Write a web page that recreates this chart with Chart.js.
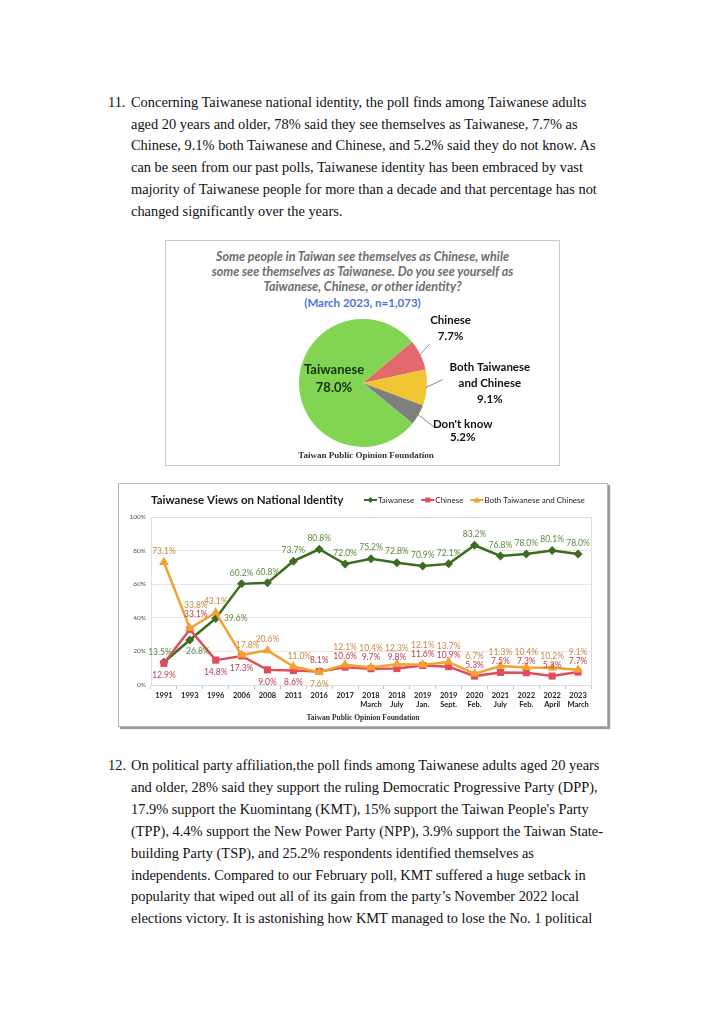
<!DOCTYPE html>
<html><head><meta charset="utf-8">
<script src="https://cdn.jsdelivr.net/npm/chart.js@4.4.1/dist/chart.umd.min.js"></script>
<style>
html,body{margin:0;padding:0;background:#fff;}
body{width:724px;height:1024px;position:relative;overflow:hidden;}
.ln{position:absolute;left:131px;font-family:"Liberation Serif","Times New Roman",serif;font-size:14.4px;color:#111;white-space:nowrap;line-height:22px;height:22px;}
.num{left:108px;}
.box1{position:absolute;left:165px;top:240px;width:393px;height:224px;border:1px solid #c9c9c9;}
.box2{position:absolute;left:118px;top:483px;width:488px;height:242px;border:1px solid #b5b5b5;box-shadow:2px 2px 1px #9a9a9a;}
.ptitle{position:absolute;left:165px;width:395px;text-align:center;font-family:Lato,"Open Sans",sans-serif;font-style:italic;font-weight:bold;font-size:12.5px;color:#6e6e6e;white-space:nowrap;line-height:15px;}
.psub{position:absolute;left:165px;width:395px;text-align:center;font-family:Lato,"Open Sans",sans-serif;font-weight:bold;font-size:11.5px;color:#4f72e0;line-height:14px;}
.src{position:absolute;text-align:center;font-family:"Liberation Serif","Times New Roman",serif;font-weight:bold;color:#333;white-space:nowrap;}
canvas{position:absolute;}
</style></head>
<body>
<div class="ln num" style="top:91px">11.</div>
<div class="ln" style="top:91px">Concerning Taiwanese national identity, the poll finds among Taiwanese adults</div>
<div class="ln" style="top:113px">aged 20 years and older, 78% said they see themselves as Taiwanese, 7.7% as</div>
<div class="ln" style="top:134px">Chinese, 9.1% both Taiwanese and Chinese, and 5.2% said they do not know. As</div>
<div class="ln" style="top:156px">can be seen from our past polls, Taiwanese identity has been embraced by vast</div>
<div class="ln" style="top:178px">majority of Taiwanese people for more than a decade and that percentage has not</div>
<div class="ln" style="top:200px">changed significantly over the years.</div>

<div class="box1"></div>
<div class="ptitle" style="top:249px">Some people in Taiwan see themselves as Chinese, while</div>
<div class="ptitle" style="top:264px">some see themselves as Taiwanese. Do you see yourself as</div>
<div class="ptitle" style="top:279px">Taiwanese, Chinese, or other identity?</div>
<div class="psub" style="top:296px">(March 2023, n=1,073)</div>
<canvas id="pie" width="394" height="225" style="left:165px;top:240px;width:394px;height:225px"></canvas>
<div class="src" style="left:266px;width:200px;top:449px;font-size:9px;line-height:12px">Taiwan Public Opinion Foundation</div>

<div class="box2"></div>
<canvas id="line" width="490" height="244" style="left:118px;top:483px;width:490px;height:244px"></canvas>
<div class="src" style="left:263px;width:200px;top:713px;font-size:7.5px;line-height:10px">Taiwan Public Opinion Foundation</div>

<div class="ln num" style="top:754px">12.</div>
<div class="ln" style="top:754px">On political party affiliation,the poll finds among Taiwanese adults aged 20 years</div>
<div class="ln" style="top:776px">and older, 28% said they support the ruling Democratic Progressive Party (DPP),</div>
<div class="ln" style="top:798px">17.9% support the Kuomintang (KMT), 15% support the Taiwan People's Party</div>
<div class="ln" style="top:820px">(TPP), 4.4% support the New Power Party (NPP), 3.9% support the Taiwan State-</div>
<div class="ln" style="top:842px">building Party (TSP), and 25.2% respondents identified themselves as</div>
<div class="ln" style="top:864px">independents. Compared to our February poll, KMT suffered a huge setback in</div>
<div class="ln" style="top:885px">popularity that wiped out all of its gain from the party’s November 2022 local</div>
<div class="ln" style="top:907px">elections victory. It is astonishing how KMT managed to lose the No. 1 political</div>

<script>
// ---------- data ----------
const pieLabels = ['Chinese', 'Both Taiwanese and Chinese', "Don't know", 'Taiwanese'];
const pieValues = [7.7, 9.1, 5.2, 78.0];

const categories = [['1991'], ['1993'], ['1996'], ['2006'], ['2008'], ['2011'], ['2016'], ['2017'],
  ['2018', 'March'], ['2018', 'July'], ['2019', 'Jan.'], ['2019', 'Sept.'], ['2020', 'Feb.'],
  ['2021', 'July'], ['2022', 'Feb.'], ['2022', 'April'], ['2023', 'March']];
const taiwanese = [13.5, 26.8, 39.6, 60.2, 60.8, 73.7, 80.8, 72.0, 75.2, 72.8, 70.9, 72.1, 83.2, 76.8, 78.0, 80.1, 78.0];
const chinese = [12.9, 33.1, 14.8, 17.3, 9.0, 8.6, 8.1, 10.6, 9.7, 9.8, 11.6, 10.9, 5.3, 7.5, 7.3, 5.3, 7.7];
const both = [73.1, 33.8, 43.1, 17.8, 20.6, 11.0, 7.6, 12.1, 10.4, 12.3, 12.1, 13.7, 6.7, 11.3, 10.4, 10.2, 9.1];
const yTicks = [0, 20, 40, 60, 80, 100];

// label placement keywords (styling only)
const twPlace = ['tl', 'br', 'r', 't', 't', 't', 't', 't', 't', 't', 't', 't', 't', 't', 't', 't', 't'];
const cnPlace = ['b', 'tr', 'b', 'b', 'b', 'b', 't', 't', 't', 't', 't', 't', 't', 't', 't', 't', 't'];
const btPlace = ['t', 'stack', 't', 'tr', 't', 'tr', 'b', 'stack', 'stack', 'stack', 'stack', 'stack', 'stack', 'stack', 'stack', 'stack', 'stack'];

const FONT = 'Lato, "Open Sans", sans-serif';

// ---------- pie ----------
const pieColors = ['#e26a6c', '#f2c535', '#7f7f7f', '#82d552'];
const pieLabelCfg = [
  { lines: ['Chinese', '7.7%'], lead: [10, -11], tx: 21, ty: [-24, -8] },
  { lines: ['Both Taiwanese', 'and Chinese', '9.1%'], lead: [17, -8], tx: 47, ty: [-12, 4, 20] },
  { lines: ["Don't know", '5.2%'], lead: [17, 13], tx: 28, ty: [-3, 10], hook: 3 },
  { inside: true, lines: ['Taiwanese', '78.0%'], tx: -29, ty: [-13, 5] }
];
const pieLabelPlugin = {
  id: 'pieLabels',
  afterDatasetsDraw(chart) {
    const ctx = chart.ctx;
    const meta = chart.getDatasetMeta(0);
    meta.data.forEach((arc, i) => {
      const cfg = pieLabelCfg[i];
      const p = arc.getProps(['x', 'y', 'startAngle', 'endAngle', 'outerRadius'], true);
      const mid = (p.startAngle + p.endAngle) / 2;
      ctx.save();
      ctx.textAlign = 'center';
      ctx.textBaseline = 'middle';
      if (cfg.inside) {
        ctx.fillStyle = '#17300b';
        ctx.font = 'bold 13px ' + FONT;
        cfg.lines.forEach((t, k) => ctx.fillText(t, p.x + cfg.tx, p.y + cfg.ty[k]));
      } else {
        const sx = p.x + Math.cos(mid) * (p.outerRadius - 1);
        const sy = p.y + Math.sin(mid) * (p.outerRadius - 1);
        const ex = sx + cfg.lead[0], ey = sy + cfg.lead[1];
        ctx.strokeStyle = '#8c8c8c';
        ctx.lineWidth = 1;
        ctx.beginPath();
        ctx.moveTo(sx, sy);
        ctx.lineTo(ex, ey);
        if (cfg.hook) ctx.lineTo(ex + cfg.hook, ey);
        ctx.stroke();
        ctx.fillStyle = '#111';
        ctx.font = 'bold 11.5px ' + FONT;
        cfg.lines.forEach((t, k) => ctx.fillText(t, ex + cfg.tx, ey + cfg.ty[k]));
      }
      ctx.restore();
    });
  }
};

new Chart(document.getElementById('pie'), {
  type: 'pie',
  data: { labels: pieLabels, datasets: [{ data: pieValues, backgroundColor: pieColors, borderWidth: 0 }] },
  options: {
    responsive: false, animation: false, rotation: 50,
    layout: { padding: { left: 134, right: 132, top: 79, bottom: 18 } },
    plugins: { legend: { display: false }, tooltip: { enabled: false } },
    events: []
  },
  plugins: [pieLabelPlugin]
});

// ---------- line ----------
const cGreen = '#3d6b1f', cRed = '#e24c5b', cOrange = '#f2a231';
const lblGreen = '#5b8b3b', lblRed = '#c23a4c', lblOrange = '#c98a45';

const OFF = { t: [0, -11], b: [0, 12], r: [20, 0], tl: [-4, -10], br: [8, 11], tr: [6, -10] };

const lineLabelPlugin = {
  id: 'lineLabels',
  afterDatasetsDraw(chart) {
    const ctx = chart.ctx;
    ctx.save();
    ctx.font = '8.5px ' + FONT;
    ctx.textAlign = 'center';
    ctx.textBaseline = 'middle';
    const mTw = chart.getDatasetMeta(0).data;
    const mCn = chart.getDatasetMeta(1).data;
    const mBt = chart.getDatasetMeta(2).data;
    const redY = [];
    mTw.forEach((pt, i) => {
      const o = OFF[twPlace[i]];
      ctx.fillStyle = lblGreen;
      ctx.fillText(taiwanese[i].toFixed(1) + '%', pt.x + o[0], pt.y + o[1]);
    });
    mCn.forEach((pt, i) => {
      let o = OFF[cnPlace[i]];
      if (cnPlace[i] === 'tr') o = [6, -15];
      ctx.fillStyle = lblRed;
      const y = pt.y + o[1];
      redY[i] = y;
      ctx.fillText(chinese[i].toFixed(1) + '%', pt.x + o[0], y);
    });
    mBt.forEach((pt, i) => {
      const pl = btPlace[i];
      let x, y;
      if (pl === 'stack') {
        x = pt.x + (i === 1 ? 6 : 0);
        y = Math.min(pt.y - 12, redY[i] - 9);
      } else {
        const o = OFF[pl];
        x = pt.x + o[0]; y = pt.y + o[1];
      }
      ctx.fillStyle = lblOrange;
      ctx.fillText(both[i].toFixed(1) + '%', x, y);
    });
    ctx.restore();
  }
};

const frameLegendPlugin = {
  id: 'frameLegend',
  beforeDatasetsDraw(chart) {
    const a = chart.chartArea, ctx = chart.ctx;
    ctx.save();
    ctx.strokeStyle = '#dedede';
    ctx.lineWidth = 1;
    ctx.strokeRect(Math.round(a.left) + 0.5, Math.round(a.top) + 0.5, Math.round(a.right - a.left), Math.round(a.bottom - a.top));
    ctx.restore();
  },
  afterDraw(chart) {
    const ctx = chart.ctx;
    ctx.save();
    ctx.textBaseline = 'middle';
    ctx.fillStyle = '#1a1a1a';
    ctx.font = 'bold 11.5px ' + FONT;
    ctx.fillText('Taiwanese Views on National Identity', 33, 17);
    ctx.font = '8px ' + FONT;
    let x = 246;
    const y = 17;
    chart.data.datasets.forEach(ds => {
      ctx.strokeStyle = ds.borderColor;
      ctx.lineWidth = 2;
      ctx.beginPath(); ctx.moveTo(x, y); ctx.lineTo(x + 13, y); ctx.stroke();
      ctx.fillStyle = ds.borderColor;
      const cx = x + 6.5;
      ctx.beginPath();
      if (ds.pointStyle === 'rectRot') { ctx.moveTo(cx, y - 3); ctx.lineTo(cx + 3, y); ctx.lineTo(cx, y + 3); ctx.lineTo(cx - 3, y); }
      else if (ds.pointStyle === 'rect') { ctx.rect(cx - 2.5, y - 2.5, 5, 5); }
      else { ctx.moveTo(cx, y - 3.2); ctx.lineTo(cx + 3.2, y + 2.5); ctx.lineTo(cx - 3.2, y + 2.5); }
      ctx.fill();
      ctx.fillStyle = '#222';
      ctx.fillText(ds.label, x + 14, y);
      x += 14 + ctx.measureText(ds.label).width + 7;
    });
    ctx.restore();
  }
};

new Chart(document.getElementById('line'), {
  type: 'line',
  data: {
    labels: categories,
    datasets: [
      { label: 'Taiwanese', data: taiwanese, borderColor: cGreen, backgroundColor: cGreen, borderWidth: 2.5,
        pointStyle: 'rectRot', pointRadius: 4.5, pointBorderWidth: 0, order: 2 },
      { label: 'Chinese', data: chinese, borderColor: cRed, backgroundColor: cRed, borderWidth: 2.5,
        pointStyle: 'rect', pointRadius: 5, pointBorderWidth: 0, order: 1 },
      { label: 'Both Taiwanese and Chinese', data: both, borderColor: cOrange, backgroundColor: cOrange, borderWidth: 2.5,
        pointStyle: 'triangle', pointRadius: 5.5, pointBorderWidth: 0, order: 0 }
    ]
  },
  options: {
    responsive: false, animation: false, events: [],
    layout: { padding: { left: 0, right: 17, top: 34, bottom: 0 } },
    plugins: { legend: { display: false }, tooltip: { enabled: false }, title: { display: false } },
    scales: {
      x: {
        offset: true,
        grid: { drawOnChartArea: false, drawTicks: true, tickLength: 4, color: '#c4c4c4', offset: true },
        border: { display: true, color: '#c4c4c4' },
        ticks: { color: '#222', font: { family: FONT, size: 7.5, weight: 'bold', lineHeight: 1.25 }, padding: 2, maxRotation: 0, autoSkip: false },
        afterFit(s) { s.height = 42; }
      },
      y: {
        min: 0, max: 100,
        afterBuildTicks(s) { s.ticks = yTicks.map(v => ({ value: v })); },
        grid: { color: '#e6e6e6', drawTicks: false },
        border: { display: false },
        ticks: { color: '#555', font: { family: FONT, size: 6.5 }, padding: 5, callback: v => v + '%' },
        afterFit(s) { s.width = 33; }
      }
    }
  },
  plugins: [lineLabelPlugin, frameLegendPlugin]
});
</script>
</body></html>
